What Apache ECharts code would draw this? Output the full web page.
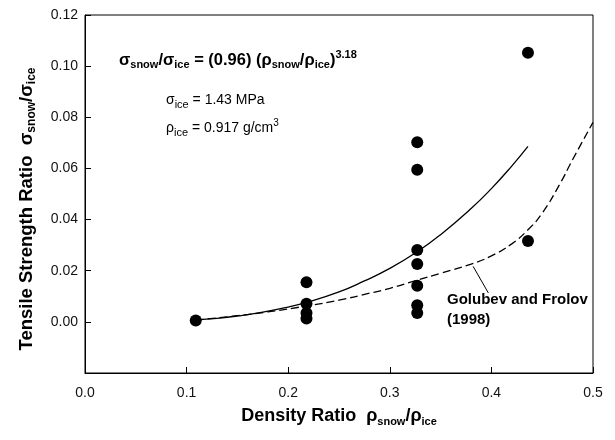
<!DOCTYPE html>
<html><head><meta charset="utf-8">
<script src="https://cdn.jsdelivr.net/npm/echarts@6/dist/echarts.min.js"></script>
<style>html,body{margin:0;padding:0;background:#fff}#c{width:615px;height:440px}</style>
</head><body><div id="c"></div>
<script>
// ---- data ----
const xTickLabels = ['0.0', '0.1', '0.2', '0.3', '0.4', '0.5'];
const yTickLabels = ['0.00', '0.02', '0.04', '0.06', '0.08', '0.10', '0.12'];

const measuredDensity  = [0.109, 0.218, 0.218, 0.218, 0.218, 0.327, 0.327, 0.327, 0.327, 0.327, 0.327, 0.327, 0.436, 0.436];
const measuredStrength = [0.0005, 0.0155, 0.0071, 0.0035, 0.0013, 0.0702, 0.0595, 0.0281, 0.0226, 0.0141, 0.0065, 0.0035, 0.1052, 0.0316];

const fitDensity  = [0.109, 0.13, 0.15, 0.175, 0.2, 0.218, 0.25, 0.275, 0.3, 0.327, 0.35, 0.38, 0.4, 0.42, 0.436];
const fitStrength = [0.0008, 0.0014, 0.0023, 0.0038, 0.0058, 0.0076, 0.0117, 0.0160, 0.0209, 0.0274, 0.0341, 0.0443, 0.0521, 0.0609, 0.0686];

const golubevDensity  = [0.109, 0.15, 0.18, 0.218, 0.25, 0.28, 0.30, 0.327, 0.35, 0.38, 0.40, 0.42, 0.436, 0.45, 0.4675, 0.48, 0.50];
const golubevStrength = [0.0007, 0.0024, 0.0039, 0.0062, 0.0085, 0.0112, 0.0131, 0.0163, 0.0190, 0.0226, 0.0258, 0.0305, 0.0360, 0.0425, 0.0540, 0.0635, 0.0780];

const leaderFrom = [0.382, 0.0217];
const leaderTo   = [0.397, 0.0113];

// ---- chart ----
const FONT = "'Liberation Sans', Arial, Helvetica, sans-serif";
const zip = (a, b) => a.map((v, i) => [v, b[i]]);

const chart = echarts.init(document.getElementById('c'), null, {renderer: 'canvas'});

const xTitleRich = {
  m: {fontFamily: FONT, fontWeight: 'bold', fontSize: 18, color: '#000'},
  s: {fontFamily: FONT, fontWeight: 'bold', fontSize: 11, color: '#000', padding: [10, 0, 0, 0]}
};
const yTitleRich = {
  m: {fontFamily: FONT, fontWeight: 'bold', fontSize: 18.5, color: '#000'},
  s: {fontFamily: FONT, fontWeight: 'bold', fontSize: 12, color: '#000', padding: [10, 0, 0, 0]}
};

chart.setOption({
  animation: false,
  backgroundColor: '#fff',
  grid: {left: 85, right: 22, top: 15, bottom: 67, show: true, borderColor: '#000', borderWidth: 1},
  xAxis: {
    type: 'value', min: 0, max: 0.5, interval: 0.1,
    axisLine: {onZero: false, lineStyle: {color: '#000', width: 1}},
    axisTick: {inside: true, length: 6, lineStyle: {color: '#000'}},
    splitLine: {show: false},
    axisLabel: {
      margin: 13, color: '#111', fontSize: 14, fontFamily: FONT,
      formatter: v => xTickLabels[Math.round(v * 10)]
    },
    name: '{m|Density Ratio  ρ}{s|snow}{m|/ρ}{s|ice}',
    nameLocation: 'middle', nameGap: 33,
    nameTextStyle: {rich: xTitleRich}
  },
  yAxis: {
    type: 'value', min: -0.02, max: 0.12, interval: 0.02,
    axisLine: {onZero: false, lineStyle: {color: '#000', width: 1}},
    axisTick: {inside: true, length: 6, lineStyle: {color: '#000'}},
    splitLine: {show: false},
    axisLabel: {
      margin: 7, color: '#111', fontSize: 14, fontFamily: FONT,
      formatter: v => { const i = Math.round(v / 0.02); return i < 0 ? '' : yTickLabels[i]; }
    }
  },
  series: [
    {
      type: 'line', name: 'fit', data: zip(fitDensity, fitStrength),
      smooth: true, showSymbol: false, symbol: 'none',
      lineStyle: {color: '#000', width: 1.3}, z: 2
    },
    {
      type: 'line', name: 'Golubev and Frolov (1998)', data: zip(golubevDensity, golubevStrength),
      smooth: true, showSymbol: false, symbol: 'none',
      lineStyle: {color: '#000', width: 1.3, type: [8, 4]}, z: 2,
      markLine: {
        silent: true, symbol: ['none', 'none'],
        lineStyle: {color: '#000', width: 1, type: 'solid'},
        label: {show: false},
        data: [[{coord: leaderFrom}, {coord: leaderTo}]]
      }
    },
    {
      type: 'scatter', name: 'measured', data: zip(measuredDensity, measuredStrength),
      symbol: 'circle', symbolSize: 12, itemStyle: {color: '#000', opacity: 1}, z: 3
    }
  ],
  graphic: [
    {
      type: 'text', x: 27, y: 209, rotation: Math.PI / 2,
      style: {
        text: '{m|Tensile Strength Ratio  σ}{s|snow}{m|/σ}{s|ice}',
        align: 'center', verticalAlign: 'middle',
        rich: yTitleRich
      }
    },
    {
      type: 'text', left: 119, top: 49,
      style: {
        text: '{m|σ}{s|snow}{m|/σ}{s|ice}{m| = (0.96) (ρ}{s|snow}{m|/ρ}{s|ice}{m|)}{p|3.18}',
        rich: {
          m: {fontFamily: FONT, fontWeight: 'bold', fontSize: 16.5, color: '#000'},
          s: {fontFamily: FONT, fontWeight: 'bold', fontSize: 11, color: '#000', padding: [10, 0, 0, 0]},
          p: {fontFamily: FONT, fontWeight: 'bold', fontSize: 11, color: '#000', padding: [0, 0, 11, 0]}
        }
      }
    },
    {
      type: 'text', left: 166, top: 93,
      style: {
        text: '{m|σ}{s|ice}{m| = 1.43 MPa}',
        rich: {
          m: {fontFamily: FONT, fontSize: 14, color: '#000'},
          s: {fontFamily: FONT, fontSize: 11, color: '#000', padding: [9, 0, 0, 0]}
        }
      }
    },
    {
      type: 'text', left: 166, top: 118,
      style: {
        text: '{m|ρ}{s|ice}{m| = 0.917 g/cm}{p|3}',
        rich: {
          m: {fontFamily: FONT, fontSize: 14, color: '#000'},
          s: {fontFamily: FONT, fontSize: 11, color: '#000', padding: [9, 0, 0, 0]},
          p: {fontFamily: FONT, fontSize: 10, color: '#000', padding: [0, 0, 10, 0]}
        }
      }
    },
    {
      type: 'text', left: 447, top: 290,
      style: {
        text: 'Golubev and Frolov\n(1998)',
        fontFamily: FONT, fontWeight: 'bold', fontSize: 15, lineHeight: 20, fill: '#000'
      }
    }
  ]
});
</script>
</body></html>
